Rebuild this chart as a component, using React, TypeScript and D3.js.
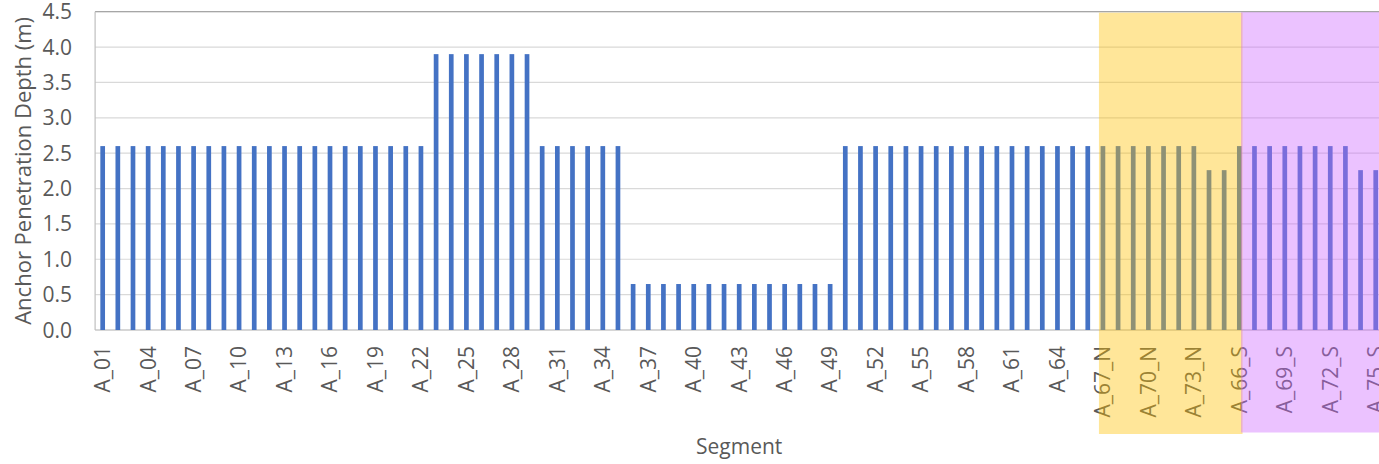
import React from "react";
import * as d3 from "d3";

// Segment names along the x axis
const mainSegments = [
  "A_01", "A_02", "A_03", "A_04", "A_05", "A_06", "A_07", "A_08", "A_09", "A_10",
  "A_11", "A_12", "A_13", "A_14", "A_15", "A_16", "A_17", "A_18", "A_19", "A_20",
  "A_21", "A_22", "A_23", "A_24", "A_25", "A_26", "A_27", "A_28", "A_29", "A_30",
  "A_31", "A_32", "A_33", "A_34", "A_35", "A_36", "A_37", "A_38", "A_39", "A_40",
  "A_41", "A_42", "A_43", "A_44", "A_45", "A_46", "A_47", "A_48", "A_49", "A_50",
  "A_51", "A_52", "A_53", "A_54", "A_55", "A_56", "A_57", "A_58", "A_59", "A_60",
  "A_61", "A_62", "A_63", "A_64",
];
const northSegments = [
  "A_65_N", "A_66_N", "A_67_N", "A_68_N", "A_69_N", "A_70_N", "A_71_N", "A_72_N",
  "A_73_N", "A_74_N", "A_75_N",
];
const southSegments = [
  "A_66_S", "A_67_S", "A_68_S", "A_69_S", "A_70_S", "A_71_S", "A_72_S", "A_73_S",
  "A_74_S", "A_75_S",
];

// Anchor penetration depth (m), one per segment
const mainDepths = [
  2.6, 2.6, 2.6, 2.6, 2.6, 2.6, 2.6, 2.6, 2.6, 2.6,
  2.6, 2.6, 2.6, 2.6, 2.6, 2.6, 2.6, 2.6, 2.6, 2.6,
  2.6, 2.6, 3.9, 3.9, 3.9, 3.9, 3.9, 3.9, 3.9, 2.6,
  2.6, 2.6, 2.6, 2.6, 2.6, 0.65, 0.65, 0.65, 0.65, 0.65,
  0.65, 0.65, 0.65, 0.65, 0.65, 0.65, 0.65, 0.65, 0.65, 2.6,
  2.6, 2.6, 2.6, 2.6, 2.6, 2.6, 2.6, 2.6, 2.6, 2.6,
  2.6, 2.6, 2.6, 2.6,
];
const northDepths = [2.6, 2.6, 2.6, 2.6, 2.6, 2.6, 2.6, 2.6, 2.6, 2.26, 2.26];
const southDepths = [2.6, 2.6, 2.6, 2.6, 2.6, 2.6, 2.6, 2.6, 2.26, 2.26];

// Category labels printed under the axis (every third segment)
const tickLabels = [
  "A_01", "A_04", "A_07", "A_10", "A_13", "A_16", "A_19", "A_22", "A_25", "A_28",
  "A_31", "A_34", "A_37", "A_40", "A_43", "A_46", "A_49", "A_52", "A_55", "A_58",
  "A_61", "A_64", "A_67_N", "A_70_N", "A_73_N", "A_66_S", "A_69_S", "A_72_S", "A_75_S",
];
const yTicks = [0, 0.5, 1, 1.5, 2, 2.5, 3, 3.5, 4, 4.5];

// Shaded zones: first and last segment of each band
const northZone = ["A_67_N", "A_66_S"];
const southZone = ["A_66_S", "A_75_S"];

const W = 1379;
const H = 464;
const plotLeft = 95.1;
const plotRight = 1383.3;
const plotTop = 11.7;
const plotBottom = 330;
const FONT = "'Open Sans', 'Noto Sans', sans-serif";
const TEXT = "#595959";

export default function App() {
  const categories = [...mainSegments, ...northSegments, ...southSegments];
  const depths = [...mainDepths, ...northDepths, ...southDepths];
  const data = categories.map((c, i) => ({ c, v: depths[i] }));

  const x = d3
    .scaleBand<string>()
    .domain(categories)
    .range([plotLeft, plotRight])
    .paddingInner(0.69)
    .paddingOuter(0.345);
  const y = d3.scaleLinear().domain([0, 4.5]).range([plotBottom, plotTop]);
  const bw = x.bandwidth();
  const cx = (c: string) => (x(c) as number) + bw / 2;

  const nX0 = cx(northZone[0]) - 4;
  const nX1 = cx(northZone[1]) + 3.2;
  const sX0 = cx(southZone[0]) + 1.7;
  const sX1 = cx(southZone[1]) + 20;

  return (
    <svg
      width={W}
      height={H}
      style={{ position: "absolute", left: 0, top: 0, background: "#fff" }}
      fontFamily={FONT}
    >
      {/* horizontal gridlines */}
      {yTicks.map((t) => (
        <line
          key={"g" + t}
          x1={plotLeft}
          x2={plotRight}
          y1={y(t)}
          y2={y(t)}
          stroke="#D9D9D9"
          strokeWidth={1.2}
        />
      ))}
      {/* plot frame */}
      <line x1={plotLeft} x2={plotRight} y1={plotTop} y2={plotTop} stroke="#A6A6A6" strokeWidth={1.2} />
      <line x1={plotLeft} x2={plotLeft} y1={plotTop} y2={plotBottom} stroke="#BFBFBF" strokeWidth={1.2} />
      <line x1={plotLeft} x2={plotRight} y1={plotBottom} y2={plotBottom} stroke="#BFBFBF" strokeWidth={1.2} />

      {/* bars */}
      {data.map((d) => (
        <rect
          key={d.c}
          x={x(d.c)}
          y={y(d.v)}
          width={bw}
          height={plotBottom - y(d.v)}
          fill="#4472C4"
        />
      ))}

      {/* y tick labels */}
      {yTicks.map((t) => (
        <text
          key={"yl" + t}
          x={72}
          y={y(t)}
          dy="0.36em"
          textAnchor="end"
          fontSize={21}
          fill={TEXT}
        >
          {d3.format(".1f")(t)}
        </text>
      ))}

      {/* x tick labels */}
      {tickLabels.map((c) => (
        <text
          key={"xl" + c}
          transform={`translate(${cx(c)},346) rotate(-90)`}
          dy="0.35em"
          textAnchor="end"
          fontSize={21}
          fill={TEXT}
        >
          {c}
        </text>
      ))}

      {/* axis titles */}
      <text
        transform={`translate(31,${(plotTop + plotBottom) / 2}) rotate(-90)`}
        textAnchor="middle"
        fontSize={22}
        fill={TEXT}
      >
        Anchor Penetration Depth (m)
      </text>
      <text x={(plotLeft + plotRight) / 2} y={454} textAnchor="middle" fontSize={21} fill={TEXT}>
        Segment
      </text>

      {/* shaded zones */}
      <rect x={nX0} y={plotTop + 1} width={nX1 - nX0} height={434 - plotTop - 1} fill="#FFC000" fillOpacity={0.4} />
      <rect x={sX0} y={plotTop + 0.5} width={sX1 - sX0} height={432.5 - plotTop - 0.5} fill="#CC66FF" fillOpacity={0.4} />
    </svg>
  );
}
